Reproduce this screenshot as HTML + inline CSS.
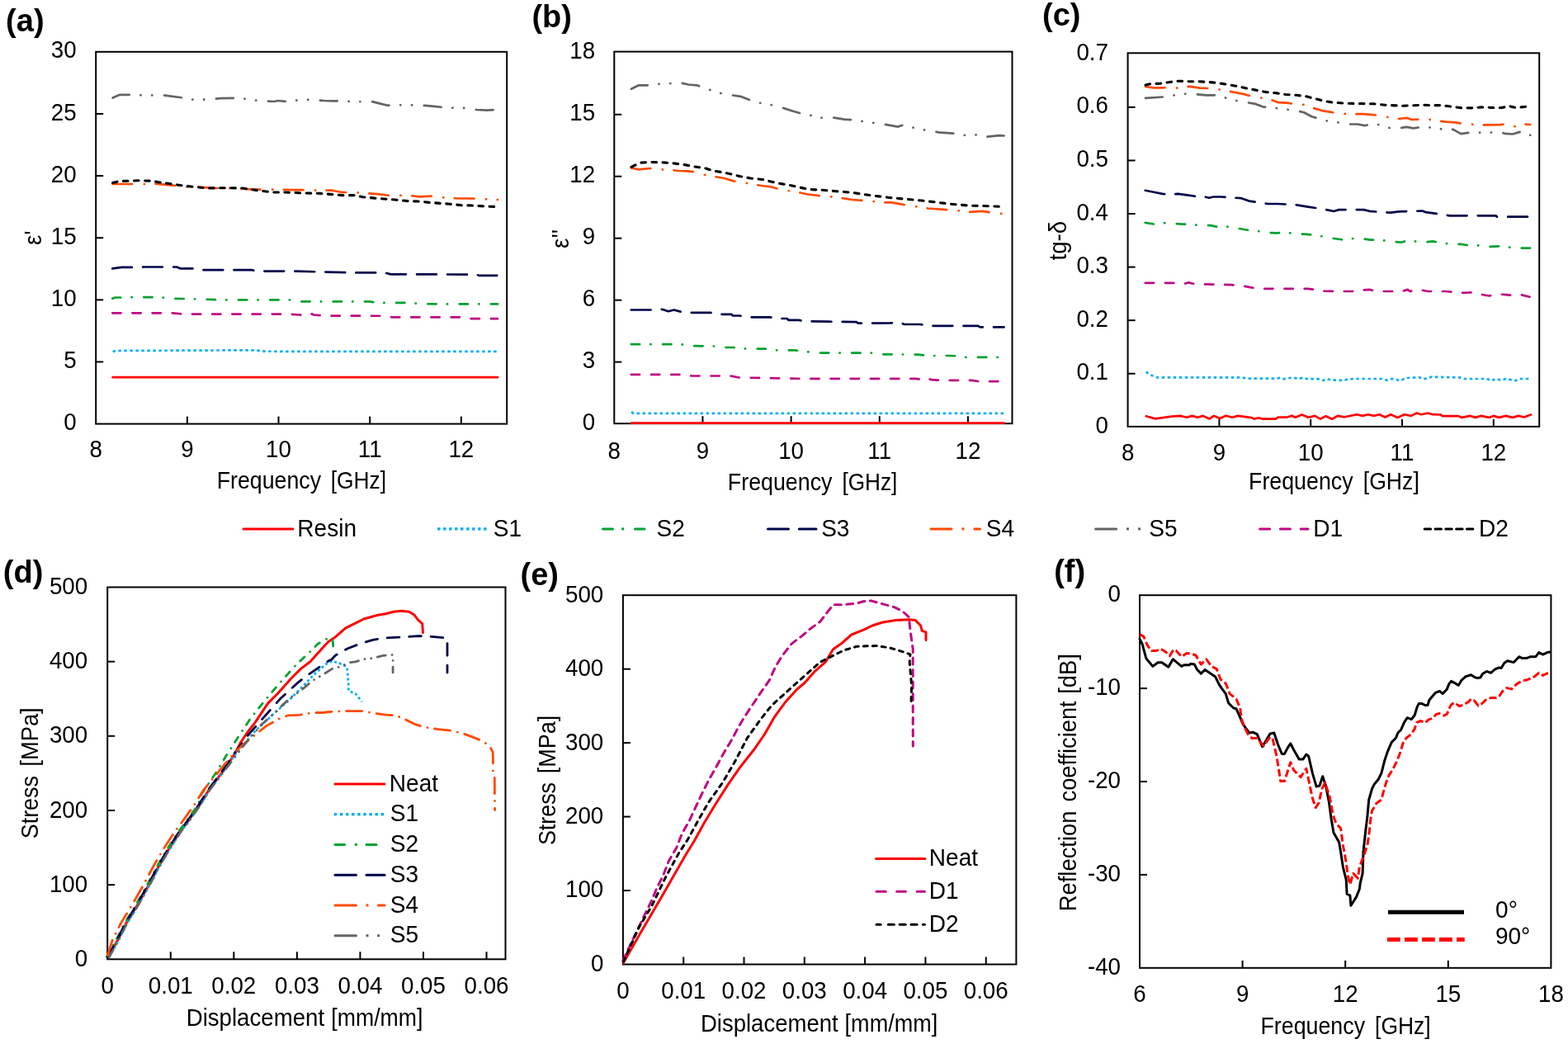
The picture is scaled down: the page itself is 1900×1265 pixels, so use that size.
<!DOCTYPE html>
<html><head><meta charset="utf-8"><title>Figure</title>
<style>html,body{margin:0;padding:0;background:#fff;}svg{display:block;}</style>
</head><body>
<svg width="1900" height="1265" viewBox="0 0 1900 1265" font-family="'Liberation Sans', Arial, sans-serif">
<rect width="1900" height="1265" fill="#fff"/>
<rect x="116.2" y="62.8" width="498.00000000000006" height="450.8" fill="none" stroke="#000" stroke-width="2"/>
<line x1="226.87" y1="513.60" x2="226.87" y2="504.60" stroke="#000" stroke-width="2"/>
<line x1="337.53" y1="513.60" x2="337.53" y2="504.60" stroke="#000" stroke-width="2"/>
<line x1="448.20" y1="513.60" x2="448.20" y2="504.60" stroke="#000" stroke-width="2"/>
<line x1="558.87" y1="513.60" x2="558.87" y2="504.60" stroke="#000" stroke-width="2"/>
<line x1="116.20" y1="438.47" x2="125.20" y2="438.47" stroke="#000" stroke-width="2"/>
<line x1="116.20" y1="363.33" x2="125.20" y2="363.33" stroke="#000" stroke-width="2"/>
<line x1="116.20" y1="288.20" x2="125.20" y2="288.20" stroke="#000" stroke-width="2"/>
<line x1="116.20" y1="213.07" x2="125.20" y2="213.07" stroke="#000" stroke-width="2"/>
<line x1="116.20" y1="137.93" x2="125.20" y2="137.93" stroke="#000" stroke-width="2"/>
<text transform="matrix(0.94,0,0,1,77.15,521.20)" font-size="29.5">0</text>
<text transform="matrix(0.94,0,0,1,77.15,446.07)" font-size="29.5">5</text>
<text transform="matrix(0.94,0,0,1,61.73,370.93)" font-size="29.5">10</text>
<text transform="matrix(0.94,0,0,1,61.73,295.80)" font-size="29.5">15</text>
<text transform="matrix(0.94,0,0,1,61.73,220.67)" font-size="29.5">20</text>
<text transform="matrix(0.94,0,0,1,61.73,145.53)" font-size="29.5">25</text>
<text transform="matrix(0.94,0,0,1,61.73,70.40)" font-size="29.5">30</text>
<text transform="matrix(0.94,0,0,1,108.49,554.40)" font-size="29.5">8</text>
<text transform="matrix(0.94,0,0,1,219.16,554.40)" font-size="29.5">9</text>
<text transform="matrix(0.94,0,0,1,322.11,554.40)" font-size="29.5">10</text>
<text transform="matrix(0.94,0,0,1,433.81,554.40)" font-size="29.5">11</text>
<text transform="matrix(0.94,0,0,1,543.44,554.40)" font-size="29.5">12</text>
<text transform="matrix(0.9066,0,0,1,262.76,592.40)" font-size="29.5" font-weight="normal">Frequency</text>
<text transform="matrix(0.8941,0,0,1,400.75,592.40)" font-size="29.5" font-weight="normal">[GHz]</text>
<text transform="translate(49.90,288.50) rotate(-90) matrix(0.94,0,0,1,-8.60,0)" font-size="29.5" font-weight="normal">ε'</text>
<text transform="matrix(1.0,0,0,1,7.10,37.60)" font-size="38" font-weight="bold">(a)</text>
<rect x="744.3" y="62.6" width="482.20000000000005" height="450.6" fill="none" stroke="#000" stroke-width="2"/>
<line x1="851.46" y1="513.20" x2="851.46" y2="504.20" stroke="#000" stroke-width="2"/>
<line x1="958.61" y1="513.20" x2="958.61" y2="504.20" stroke="#000" stroke-width="2"/>
<line x1="1065.77" y1="513.20" x2="1065.77" y2="504.20" stroke="#000" stroke-width="2"/>
<line x1="1172.92" y1="513.20" x2="1172.92" y2="504.20" stroke="#000" stroke-width="2"/>
<line x1="744.30" y1="438.63" x2="753.30" y2="438.63" stroke="#000" stroke-width="2"/>
<line x1="744.30" y1="363.67" x2="753.30" y2="363.67" stroke="#000" stroke-width="2"/>
<line x1="744.30" y1="288.70" x2="753.30" y2="288.70" stroke="#000" stroke-width="2"/>
<line x1="744.30" y1="213.73" x2="753.30" y2="213.73" stroke="#000" stroke-width="2"/>
<line x1="744.30" y1="138.77" x2="753.30" y2="138.77" stroke="#000" stroke-width="2"/>
<text transform="matrix(0.94,0,0,1,705.65,521.20)" font-size="29.5">0</text>
<text transform="matrix(0.94,0,0,1,705.65,446.23)" font-size="29.5">3</text>
<text transform="matrix(0.94,0,0,1,705.65,371.27)" font-size="29.5">6</text>
<text transform="matrix(0.94,0,0,1,705.65,296.30)" font-size="29.5">9</text>
<text transform="matrix(0.94,0,0,1,690.23,221.33)" font-size="29.5">12</text>
<text transform="matrix(0.94,0,0,1,690.23,146.37)" font-size="29.5">15</text>
<text transform="matrix(0.94,0,0,1,690.23,71.40)" font-size="29.5">18</text>
<text transform="matrix(0.94,0,0,1,736.59,555.60)" font-size="29.5">8</text>
<text transform="matrix(0.94,0,0,1,843.74,555.60)" font-size="29.5">9</text>
<text transform="matrix(0.94,0,0,1,943.19,555.60)" font-size="29.5">10</text>
<text transform="matrix(0.94,0,0,1,1051.37,555.60)" font-size="29.5">11</text>
<text transform="matrix(0.94,0,0,1,1157.50,555.60)" font-size="29.5">12</text>
<text transform="matrix(0.9088,0,0,1,881.86,594.20)" font-size="29.5" font-weight="normal">Frequency</text>
<text transform="matrix(0.8871,0,0,1,1020.47,594.20)" font-size="29.5" font-weight="normal">[GHz]</text>
<text transform="translate(688.50,289.70) rotate(-90) matrix(0.94,0,0,1,-11.23,0)" font-size="29.5" font-weight="normal">ε''</text>
<text transform="matrix(1.0,0,0,1,644.40,32.50)" font-size="38" font-weight="bold">(b)</text>
<rect x="1366.6" y="64.3" width="498.60000000000014" height="452.59999999999997" fill="none" stroke="#000" stroke-width="2"/>
<line x1="1477.40" y1="516.90" x2="1477.40" y2="507.90" stroke="#000" stroke-width="2"/>
<line x1="1588.20" y1="516.90" x2="1588.20" y2="507.90" stroke="#000" stroke-width="2"/>
<line x1="1699.00" y1="516.90" x2="1699.00" y2="507.90" stroke="#000" stroke-width="2"/>
<line x1="1809.80" y1="516.90" x2="1809.80" y2="507.90" stroke="#000" stroke-width="2"/>
<line x1="1366.60" y1="452.73" x2="1375.60" y2="452.73" stroke="#000" stroke-width="2"/>
<line x1="1366.60" y1="388.16" x2="1375.60" y2="388.16" stroke="#000" stroke-width="2"/>
<line x1="1366.60" y1="323.59" x2="1375.60" y2="323.59" stroke="#000" stroke-width="2"/>
<line x1="1366.60" y1="259.01" x2="1375.60" y2="259.01" stroke="#000" stroke-width="2"/>
<line x1="1366.60" y1="194.44" x2="1375.60" y2="194.44" stroke="#000" stroke-width="2"/>
<line x1="1366.60" y1="129.87" x2="1375.60" y2="129.87" stroke="#000" stroke-width="2"/>
<text transform="matrix(0.94,0,0,1,1327.57,524.90)" font-size="29.5">0</text>
<text transform="matrix(0.94,0,0,1,1304.44,460.33)" font-size="29.5">0.1</text>
<text transform="matrix(0.94,0,0,1,1304.44,395.76)" font-size="29.5">0.2</text>
<text transform="matrix(0.94,0,0,1,1304.44,331.19)" font-size="29.5">0.3</text>
<text transform="matrix(0.94,0,0,1,1304.44,266.61)" font-size="29.5">0.4</text>
<text transform="matrix(0.94,0,0,1,1304.44,202.04)" font-size="29.5">0.5</text>
<text transform="matrix(0.94,0,0,1,1304.44,137.47)" font-size="29.5">0.6</text>
<text transform="matrix(0.94,0,0,1,1304.44,72.90)" font-size="29.5">0.7</text>
<text transform="matrix(0.94,0,0,1,1358.89,557.60)" font-size="29.5">8</text>
<text transform="matrix(0.94,0,0,1,1469.69,557.60)" font-size="29.5">9</text>
<text transform="matrix(0.94,0,0,1,1572.78,557.60)" font-size="29.5">10</text>
<text transform="matrix(0.94,0,0,1,1684.61,557.60)" font-size="29.5">11</text>
<text transform="matrix(0.94,0,0,1,1794.38,557.60)" font-size="29.5">12</text>
<text transform="matrix(0.9081,0,0,1,1513.06,592.80)" font-size="29.5" font-weight="normal">Frequency</text>
<text transform="matrix(0.9026,0,0,1,1651.74,592.80)" font-size="29.5" font-weight="normal">[GHz]</text>
<text transform="translate(1291.50,292.00) rotate(-90) matrix(0.94,0,0,1,-23.50,0)" font-size="29.5" font-weight="normal">tg-δ</text>
<text transform="matrix(1.0,0,0,1,1263.00,31.20)" font-size="38" font-weight="bold">(c)</text>
<rect x="130.2" y="711.5" width="482.3" height="450.79999999999995" fill="none" stroke="#000" stroke-width="2"/>
<line x1="206.76" y1="1162.30" x2="206.76" y2="1153.30" stroke="#000" stroke-width="2"/>
<line x1="283.31" y1="1162.30" x2="283.31" y2="1153.30" stroke="#000" stroke-width="2"/>
<line x1="359.87" y1="1162.30" x2="359.87" y2="1153.30" stroke="#000" stroke-width="2"/>
<line x1="436.42" y1="1162.30" x2="436.42" y2="1153.30" stroke="#000" stroke-width="2"/>
<line x1="512.98" y1="1162.30" x2="512.98" y2="1153.30" stroke="#000" stroke-width="2"/>
<line x1="589.53" y1="1162.30" x2="589.53" y2="1153.30" stroke="#000" stroke-width="2"/>
<line x1="130.20" y1="1072.14" x2="139.20" y2="1072.14" stroke="#000" stroke-width="2"/>
<line x1="130.20" y1="981.98" x2="139.20" y2="981.98" stroke="#000" stroke-width="2"/>
<line x1="130.20" y1="891.82" x2="139.20" y2="891.82" stroke="#000" stroke-width="2"/>
<line x1="130.20" y1="801.66" x2="139.20" y2="801.66" stroke="#000" stroke-width="2"/>
<text transform="matrix(0.94,0,0,1,90.78,1170.90)" font-size="29.5">0</text>
<text transform="matrix(0.94,0,0,1,59.94,1080.74)" font-size="29.5">100</text>
<text transform="matrix(0.94,0,0,1,59.94,990.58)" font-size="29.5">200</text>
<text transform="matrix(0.94,0,0,1,59.94,900.42)" font-size="29.5">300</text>
<text transform="matrix(0.94,0,0,1,59.94,810.26)" font-size="29.5">400</text>
<text transform="matrix(0.94,0,0,1,59.94,720.10)" font-size="29.5">500</text>
<text transform="matrix(0.94,0,0,1,122.49,1203.60)" font-size="29.5">0</text>
<text transform="matrix(0.94,0,0,1,179.77,1203.60)" font-size="29.5">0.01</text>
<text transform="matrix(0.94,0,0,1,256.33,1203.60)" font-size="29.5">0.02</text>
<text transform="matrix(0.94,0,0,1,332.88,1203.60)" font-size="29.5">0.03</text>
<text transform="matrix(0.94,0,0,1,409.44,1203.60)" font-size="29.5">0.04</text>
<text transform="matrix(0.94,0,0,1,485.99,1203.60)" font-size="29.5">0.05</text>
<text transform="matrix(0.94,0,0,1,562.55,1203.60)" font-size="29.5">0.06</text>
<text transform="matrix(0.9369,0,0,1,225.69,1243.20)" font-size="29.5" font-weight="normal">Displacement</text>
<text transform="matrix(0.9037,0,0,1,401.33,1243.20)" font-size="29.5" font-weight="normal">[mm/mm]</text>
<text transform="translate(45.60,1015.00) rotate(-90) matrix(0.9093,0,0,1,-1.21,0)" font-size="29.5" font-weight="normal">Stress</text>
<text transform="translate(45.60,926.80) rotate(-90) matrix(0.9277,0,0,1,-1.92,0)" font-size="29.5" font-weight="normal">[MPa]</text>
<text transform="matrix(1.0,0,0,1,3.80,706.30)" font-size="38" font-weight="bold">(d)</text>
<rect x="754.9" y="721.2" width="476.5000000000001" height="447.29999999999995" fill="none" stroke="#000" stroke-width="2"/>
<line x1="828.21" y1="1168.50" x2="828.21" y2="1159.50" stroke="#000" stroke-width="2"/>
<line x1="901.52" y1="1168.50" x2="901.52" y2="1159.50" stroke="#000" stroke-width="2"/>
<line x1="974.82" y1="1168.50" x2="974.82" y2="1159.50" stroke="#000" stroke-width="2"/>
<line x1="1048.13" y1="1168.50" x2="1048.13" y2="1159.50" stroke="#000" stroke-width="2"/>
<line x1="1121.44" y1="1168.50" x2="1121.44" y2="1159.50" stroke="#000" stroke-width="2"/>
<line x1="1194.75" y1="1168.50" x2="1194.75" y2="1159.50" stroke="#000" stroke-width="2"/>
<line x1="754.90" y1="1079.04" x2="763.90" y2="1079.04" stroke="#000" stroke-width="2"/>
<line x1="754.90" y1="989.58" x2="763.90" y2="989.58" stroke="#000" stroke-width="2"/>
<line x1="754.90" y1="900.12" x2="763.90" y2="900.12" stroke="#000" stroke-width="2"/>
<line x1="754.90" y1="810.66" x2="763.90" y2="810.66" stroke="#000" stroke-width="2"/>
<text transform="matrix(0.94,0,0,1,715.88,1176.90)" font-size="29.5">0</text>
<text transform="matrix(0.94,0,0,1,685.04,1087.44)" font-size="29.5">100</text>
<text transform="matrix(0.94,0,0,1,685.04,997.98)" font-size="29.5">200</text>
<text transform="matrix(0.94,0,0,1,685.04,908.52)" font-size="29.5">300</text>
<text transform="matrix(0.94,0,0,1,685.04,819.06)" font-size="29.5">400</text>
<text transform="matrix(0.94,0,0,1,685.04,729.60)" font-size="29.5">500</text>
<text transform="matrix(0.94,0,0,1,747.19,1210.00)" font-size="29.5">0</text>
<text transform="matrix(0.94,0,0,1,801.22,1210.00)" font-size="29.5">0.01</text>
<text transform="matrix(0.94,0,0,1,874.53,1210.00)" font-size="29.5">0.02</text>
<text transform="matrix(0.94,0,0,1,947.84,1210.00)" font-size="29.5">0.03</text>
<text transform="matrix(0.94,0,0,1,1021.14,1210.00)" font-size="29.5">0.04</text>
<text transform="matrix(0.94,0,0,1,1094.45,1210.00)" font-size="29.5">0.05</text>
<text transform="matrix(0.94,0,0,1,1167.76,1210.00)" font-size="29.5">0.06</text>
<text transform="matrix(0.9340,0,0,1,848.90,1250.10)" font-size="29.5" font-weight="normal">Displacement</text>
<text transform="matrix(0.9180,0,0,1,1023.60,1250.10)" font-size="29.5" font-weight="normal">[mm/mm]</text>
<text transform="translate(672.80,1022.90) rotate(-90) matrix(0.9105,0,0,1,-1.21,0)" font-size="29.5" font-weight="normal">Stress</text>
<text transform="translate(672.80,935.40) rotate(-90) matrix(0.9181,0,0,1,-1.90,0)" font-size="29.5" font-weight="normal">[MPa]</text>
<text transform="matrix(1.0,0,0,1,630.50,709.40)" font-size="38" font-weight="bold">(e)</text>
<rect x="1381.0" y="721.2" width="498.4000000000001" height="451.5999999999999" fill="none" stroke="#000" stroke-width="2"/>
<line x1="1505.60" y1="1172.80" x2="1505.60" y2="1163.80" stroke="#000" stroke-width="2"/>
<line x1="1630.20" y1="1172.80" x2="1630.20" y2="1163.80" stroke="#000" stroke-width="2"/>
<line x1="1754.80" y1="1172.80" x2="1754.80" y2="1163.80" stroke="#000" stroke-width="2"/>
<line x1="1381.00" y1="834.10" x2="1390.00" y2="834.10" stroke="#000" stroke-width="2"/>
<line x1="1381.00" y1="947.00" x2="1390.00" y2="947.00" stroke="#000" stroke-width="2"/>
<line x1="1381.00" y1="1059.90" x2="1390.00" y2="1059.90" stroke="#000" stroke-width="2"/>
<text transform="matrix(0.94,0,0,1,1342.62,729.10)" font-size="29.5">0</text>
<text transform="matrix(0.94,0,0,1,1317.96,842.00)" font-size="29.5">-10</text>
<text transform="matrix(0.94,0,0,1,1317.96,954.90)" font-size="29.5">-20</text>
<text transform="matrix(0.94,0,0,1,1317.96,1067.80)" font-size="29.5">-30</text>
<text transform="matrix(0.94,0,0,1,1317.96,1180.70)" font-size="29.5">-40</text>
<text transform="matrix(0.94,0,0,1,1373.29,1213.50)" font-size="29.5">6</text>
<text transform="matrix(0.94,0,0,1,1497.89,1213.50)" font-size="29.5">9</text>
<text transform="matrix(0.94,0,0,1,1614.78,1213.50)" font-size="29.5">12</text>
<text transform="matrix(0.94,0,0,1,1739.38,1213.50)" font-size="29.5">15</text>
<text transform="matrix(0.94,0,0,1,1863.98,1213.50)" font-size="29.5">18</text>
<text transform="matrix(0.9088,0,0,1,1527.46,1252.90)" font-size="29.5" font-weight="normal">Frequency</text>
<text transform="matrix(0.8955,0,0,1,1666.05,1252.90)" font-size="29.5" font-weight="normal">[GHz]</text>
<text transform="translate(1303.80,1102.00) rotate(-90) matrix(0.9271,0,0,1,-2.19,0)" font-size="29.5" font-weight="normal">Reflection</text>
<text transform="translate(1303.80,970.20) rotate(-90) matrix(0.9228,0,0,1,-1.23,0)" font-size="29.5" font-weight="normal">coefficient</text>
<text transform="translate(1303.80,838.90) rotate(-90) matrix(0.9268,0,0,1,-1.91,0)" font-size="29.5" font-weight="normal">[dB]</text>
<text transform="matrix(1.0,0,0,1,1277.20,704.60)" font-size="38" font-weight="bold">(f)</text>
<polyline points="136.6,457.2 603.0,457.2" fill="none" stroke="#FF0000" stroke-width="2.7" stroke-linecap="round" stroke-linejoin="round"/>
<polyline points="136.6,426.3 140.0,425.0 311.0,424.3 316.3,425.7 360.0,425.9 603.0,425.9" fill="none" stroke="#00AEF0" stroke-width="2.7" stroke-linecap="butt" stroke-linejoin="round" stroke-dasharray="3.5 3.5"/>
<polyline points="136.2,361.8 139.5,360.5 147.6,360.5 160.4,360.1 185.9,360.1 195.3,360.2 206.0,361.8 231.6,362.1 244.4,362.5 267.9,363.4 331.7,363.4 351.9,363.4 360.0,365.4 447.6,365.4 458.5,367.0 496.8,366.8 507.8,368.1 533.1,368.4 603.0,368.4" fill="none" stroke="#00A22E" stroke-width="2.7" stroke-linecap="round" stroke-linejoin="round" stroke-dasharray="10.30 13.20 0.30 14.50"/>
<polyline points="136.2,325.3 147.6,323.9 161.7,323.9 175.1,323.5 200.7,323.5 214.1,323.5 218.2,325.3 237.0,325.3 243.7,327.2 270.6,327.2 304.8,327.2 314.9,328.6 341.1,328.6 360.0,328.7 427.0,330.4 466.0,330.4 473.6,332.4 529.7,332.4 577.6,332.8 580.3,333.8 602.2,333.8" fill="none" stroke="#00064A" stroke-width="2.7" stroke-linecap="round" stroke-linejoin="round" stroke-dasharray="23.80 13.20"/>
<polyline points="136.6,223.0 163.0,223.0 175.8,223.0 188.5,222.6 212.7,224.9 224.1,226.3 238.3,226.6 261.1,228.0 288.1,228.0 306.6,229.7 335.0,229.7 355.0,230.2 365.7,230.2 377.0,230.6 402.7,230.7 414.0,233.0 426.9,233.0 446.8,234.4 457.4,235.2 471.0,236.8 495.1,236.8 508.0,238.3 522.2,237.7 545.0,240.1 558.4,240.5 572.0,240.5 596.8,241.8 603.0,242.0" fill="none" stroke="#FF4A00" stroke-width="2.7" stroke-linecap="round" stroke-linejoin="round" stroke-dasharray="23.60 14.50 0.30 13.50"/>
<polyline points="136.6,118.5 144.5,114.9 160.1,114.9 172.9,115.4 186.4,115.4 200.0,115.6 221.3,118.5 233.4,120.6 246.9,120.6 259.7,119.9 266.8,119.2 281.8,118.8 291.7,118.8 303.8,121.0 315.2,122.0 332.3,123.0 336.5,122.0 347.9,123.0 357.8,121.8 370.0,120.6 392.7,122.0 403.4,122.3 417.6,122.3 429.7,123.5 449.6,122.8 461.0,125.6 469.5,127.7 479.5,127.3 505.1,127.3 518.0,128.2 530.7,129.4 543.5,130.6 564.9,131.0 577.7,133.0 590.4,133.7 602.5,132.7" fill="none" stroke="#646464" stroke-width="2.7" stroke-linecap="round" stroke-linejoin="round" stroke-dasharray="20.80 13.70 0.30 13.50 0.30 14.70"/>
<polyline points="136.2,379.3 209.4,379.3 222.2,380.6 351.2,380.6 362.6,381.5 373.7,382.1 377.8,380.3 380.0,381.5 392.8,382.5 466.7,382.8 475.0,384.4 557.0,384.4 566.6,386.2 603.0,386.2" fill="none" stroke="#C00682" stroke-width="2.7" stroke-linecap="round" stroke-linejoin="round" stroke-dasharray="10.30 13.90"/>
<polyline points="136.6,221.6 144.5,219.5 168.6,218.8 184.3,219.2 192.8,220.9 208.5,223.0 222.7,225.2 234.1,226.3 251.1,228.0 272.5,227.7 293.8,228.0 315.2,231.2 332.3,233.0 343.6,233.0 361.4,233.7 388.4,234.4 414.0,236.6 428.3,236.6 439.7,238.7 453.9,240.1 480.9,242.2 495.1,243.7 508.0,244.0 520.7,245.4 545.0,247.2 559.1,248.7 573.4,249.1 587.6,250.0 603.2,250.5" fill="none" stroke="#000000" stroke-width="3.1" stroke-linecap="round" stroke-linejoin="round" stroke-dasharray="5.60 7.50"/>
<polyline points="765.0,512.6 1216.6,512.6" fill="none" stroke="#FF0000" stroke-width="2.7" stroke-linecap="round" stroke-linejoin="round"/>
<polyline points="765.0,499.2 768.0,500.8 1216.6,500.8" fill="none" stroke="#00AEF0" stroke-width="2.7" stroke-linecap="butt" stroke-linejoin="round" stroke-dasharray="3.5 3.5"/>
<polyline points="764.8,417.2 815.9,417.2 828.7,417.5 839.4,419.2 865.0,419.5 875.7,421.0 889.2,421.0 900.6,422.6 926.8,422.6 936.9,424.3 963.1,424.3 973.8,425.9 996.1,427.7 1044.5,427.7 1055.3,427.6 1063.3,429.3 1112.4,429.6 1123.8,431.0 1148.7,431.0 1158.8,431.3 1168.2,432.9 1216.6,432.9" fill="none" stroke="#00A22E" stroke-width="2.7" stroke-linecap="round" stroke-linejoin="round" stroke-dasharray="10.30 13.20 0.30 14.50"/>
<polyline points="764.8,375.5 791.0,375.5 803.1,374.9 809.9,377.3 816.6,375.5 824.6,377.6 834.1,378.9 861.0,378.9 871.0,380.9 886.5,380.9 887.8,382.5 895.9,382.5 906.6,384.3 932.8,384.3 943.0,386.0 953.7,386.0 955.7,387.9 967.8,387.9 977.9,389.4 1004.2,389.7 1037.8,390.1 1039.8,391.7 1078.8,391.4 1091.6,391.0 1095.6,393.0 1115.1,393.0 1125.8,394.8 1185.0,394.8 1187.7,396.4 1216.6,396.4" fill="none" stroke="#00064A" stroke-width="2.7" stroke-linecap="round" stroke-linejoin="round" stroke-dasharray="23.80 13.20"/>
<polyline points="765.0,203.5 774.0,205.4 787.6,204.0 799.6,205.4 810.1,205.4 822.1,207.0 834.1,207.4 845.4,208.9 855.2,212.2 877.7,216.0 889.0,219.4 900.3,221.2 922.8,225.0 934.8,226.5 945.3,229.5 967.9,233.2 979.1,235.5 998.0,237.8 1010.0,238.5 1032.6,242.0 1056.6,243.8 1068.6,245.3 1080.7,245.3 1100.2,249.0 1112.2,250.5 1124.2,252.5 1148.3,254.3 1160.3,255.0 1169.3,257.3 1190.3,255.8 1203.9,258.0 1215.1,259.1" fill="none" stroke="#FF4A00" stroke-width="2.7" stroke-linecap="round" stroke-linejoin="round" stroke-dasharray="23.60 14.50 0.30 13.50"/>
<polyline points="765.0,107.8 774.0,103.3 786.1,103.3 797.3,101.8 808.6,101.8 820.6,99.5 834.1,102.5 844.7,103.3 854.4,107.0 864.9,110.5 876.2,113.8 897.2,116.8 907.0,120.6 917.5,124.3 929.5,125.8 949.8,131.1 961.1,134.8 971.6,137.8 979.9,139.8 990.5,140.1 995.0,142.8 1001.0,141.6 1013.8,143.1 1022.8,144.6 1034.1,145.4 1055.1,148.4 1066.4,149.9 1078.4,151.8 1088.2,153.6 1094.2,151.4 1107.0,154.8 1116.7,157.4 1126.5,157.4 1137.0,160.4 1160.3,161.9 1168.6,163.8 1179.1,163.8 1190.3,162.3 1196.3,165.6 1211.4,164.1 1216.6,164.5" fill="none" stroke="#646464" stroke-width="2.7" stroke-linecap="round" stroke-linejoin="round" stroke-dasharray="20.80 13.70 0.30 13.50 0.30 14.70"/>
<polyline points="764.8,453.8 826.0,453.8 838.1,455.5 884.5,455.5 895.9,457.5 977.9,458.9 1109.7,458.9 1120.5,460.0 1124.0,458.2 1128.5,460.2 1141.3,460.9 1177.6,460.9 1186.3,462.2 1216.6,462.2" fill="none" stroke="#C00682" stroke-width="2.7" stroke-linecap="round" stroke-linejoin="round" stroke-dasharray="10.30 13.90"/>
<polyline points="765.0,202.4 775.6,197.2 789.1,196.4 804.1,196.9 816.1,197.9 828.1,199.4 840.2,201.7 855.2,204.0 864.2,207.0 876.2,208.9 888.2,211.5 897.2,213.7 909.3,216.0 924.3,217.5 936.3,220.5 945.3,222.4 957.3,224.5 969.4,227.2 981.4,229.5 995.0,230.2 1013.0,231.7 1031.1,233.2 1052.1,236.3 1076.2,239.3 1100.2,241.5 1124.2,243.8 1148.3,246.8 1172.3,249.0 1190.3,249.5 1216.6,250.5" fill="none" stroke="#000000" stroke-width="3.1" stroke-linecap="round" stroke-linejoin="round" stroke-dasharray="5.60 7.50"/>
<polyline points="1388.7,504.3 1399.9,507.4 1419.6,504.7 1430.2,503.9 1438.1,505.7 1444.6,503.9 1451.2,505.7 1457.8,503.9 1465.7,507.4 1471.0,503.9 1478.2,507.0 1485.4,503.7 1493.3,505.7 1499.9,503.9 1517.0,506.1 1519.6,507.6 1524.9,506.3 1530.2,507.6 1545.9,507.6 1548.6,505.7 1560.4,505.3 1565.7,503.7 1569.6,505.7 1577.5,502.4 1585.4,505.7 1593.3,503.9 1599.9,507.6 1606.5,504.3 1614.1,507.7 1620.9,503.9 1629.2,505.3 1644.2,502.2 1651.0,503.9 1657.9,502.2 1664.7,503.9 1671.6,502.2 1678.4,505.5 1685.3,502.2 1693.5,505.9 1701.7,502.2 1709.9,503.9 1716.7,500.5 1722.2,502.2 1730.4,500.5 1735.9,502.2 1745.5,502.5 1748.2,504.2 1767.4,504.2 1771.5,505.9 1781.0,503.9 1787.9,505.9 1794.7,503.9 1804.3,505.9 1809.8,503.9 1816.6,505.9 1824.8,503.9 1833.0,505.9 1839.9,503.9 1846.7,505.5 1854.9,502.5" fill="none" stroke="#FF0000" stroke-width="2.7" stroke-linecap="round" stroke-linejoin="round"/>
<polyline points="1388.7,450.4 1392.7,454.0 1397.9,455.7 1402.5,457.4 1505.2,457.4 1510.4,458.7 1544.6,458.7 1551.2,457.9 1555.2,459.2 1567.0,457.4 1573.6,459.2 1578.8,457.4 1584.1,459.2 1597.3,459.2 1603.2,460.9 1607.8,459.0 1613.1,460.5 1626.4,460.8 1639.4,459.0 1674.3,459.0 1680.5,460.8 1686.6,459.0 1697.6,461.2 1703.0,458.1 1719.5,457.1 1724.9,459.4 1734.5,456.7 1768.7,457.4 1774.2,459.0 1801.6,459.0 1807.0,461.2 1812.5,459.0 1819.4,460.8 1824.8,459.0 1835.8,461.2 1842.6,459.0 1854.0,459.0" fill="none" stroke="#00AEF0" stroke-width="2.7" stroke-linecap="butt" stroke-linejoin="round" stroke-dasharray="3.5 3.5"/>
<polyline points="1387.8,269.8 1398.6,271.6 1410.0,270.1 1432.9,271.6 1443.0,271.8 1454.4,273.2 1466.5,273.2 1477.9,275.2 1490.7,274.5 1500.7,276.8 1512.2,278.8 1523.6,279.9 1533.7,281.9 1547.1,282.3 1560.5,281.9 1570.0,283.3 1583.4,283.9 1595.5,285.3 1604.9,286.9 1616.3,289.0 1629.2,290.7 1634.6,289.1 1649.7,289.1 1660.6,290.7 1672.9,290.7 1684.6,292.4 1697.6,293.7 1705.8,291.4 1714.0,292.4 1726.3,293.5 1735.9,292.4 1746.8,294.2 1758.5,295.9 1770.1,295.9 1781.7,297.6 1794.7,297.3 1804.3,298.9 1815.9,298.3 1824.8,298.9 1834.4,300.6 1854.1,300.6" fill="none" stroke="#00A22E" stroke-width="2.7" stroke-linecap="round" stroke-linejoin="round" stroke-dasharray="10.30 13.20 0.30 14.50"/>
<polyline points="1387.8,230.8 1397.9,232.8 1408.7,234.9 1418.1,235.8 1427.5,234.9 1440.3,236.6 1451.0,238.2 1456.4,237.6 1465.1,239.8 1470.5,238.5 1479.9,238.5 1504.1,240.2 1513.5,243.6 1536.4,247.0 1548.5,247.0 1571.3,248.3 1583.4,250.3 1604.9,253.7 1616.3,256.0 1622.3,254.1 1652.4,254.1 1659.3,255.8 1675.7,257.2 1685.3,257.6 1694.8,256.3 1723.6,255.6 1727.7,257.2 1744.1,259.3 1756.4,261.3 1812.5,261.3 1813.9,262.7 1854.1,262.7" fill="none" stroke="#00064A" stroke-width="2.7" stroke-linecap="round" stroke-linejoin="round" stroke-dasharray="23.80 13.20"/>
<polyline points="1388.1,105.0 1397.3,106.3 1409.1,106.3 1419.6,106.1 1432.8,107.0 1440.7,104.7 1453.8,106.7 1463.7,107.0 1473.6,107.9 1485.4,109.6 1494.6,111.6 1506.5,113.9 1517.0,116.8 1538.0,120.1 1548.6,124.1 1559.1,124.7 1581.5,127.1 1592.0,131.1 1602.5,134.2 1610.0,135.4 1622.3,137.5 1637.4,138.2 1651.0,138.2 1664.7,139.1 1679.8,141.6 1694.8,144.0 1704.4,142.9 1711.3,145.0 1722.2,144.3 1733.2,145.0 1752.3,147.7 1763.3,148.4 1774.2,150.1 1794.7,151.4 1804.3,151.4 1818.0,151.2 1826.2,149.8 1835.8,153.2 1845.4,150.5 1854.1,151.0" fill="none" stroke="#FF4A00" stroke-width="2.7" stroke-linecap="round" stroke-linejoin="round" stroke-dasharray="23.60 14.50 0.30 13.50"/>
<polyline points="1388.1,118.8 1409.1,117.5 1419.0,116.2 1430.2,113.9 1440.7,113.6 1461.7,115.3 1475.6,115.3 1486.1,118.8 1497.3,121.8 1520.9,125.8 1530.2,129.3 1540.0,130.4 1549.9,131.3 1571.0,134.2 1580.2,136.3 1589.4,141.2 1599.9,144.2 1610.0,147.0 1622.3,148.4 1634.6,150.5 1644.9,150.5 1653.8,152.2 1663.4,149.8 1674.3,151.8 1684.6,155.3 1694.8,155.3 1704.4,153.9 1712.6,155.3 1723.6,153.9 1734.5,154.6 1743.4,155.3 1753.7,159.1 1760.5,156.6 1770.1,162.1 1781.0,160.7 1792.0,160.7 1805.7,160.7 1813.9,159.1 1823.5,161.8 1833.0,162.5 1844.0,159.1 1854.3,163.7" fill="none" stroke="#646464" stroke-width="2.7" stroke-linecap="round" stroke-linejoin="round" stroke-dasharray="20.80 13.70 0.30 13.50 0.30 14.70"/>
<polyline points="1387.8,342.8 1424.8,342.8 1435.5,343.7 1440.3,342.4 1445.6,343.7 1457.0,344.4 1492.0,345.1 1504.1,346.0 1513.5,347.8 1524.3,349.8 1584.7,349.8 1595.5,351.1 1604.9,352.7 1616.3,353.0 1638.7,353.0 1648.3,351.6 1659.3,350.9 1668.8,353.0 1698.9,353.0 1705.8,350.9 1708.5,353.0 1719.5,350.9 1730.4,353.0 1750.9,353.0 1760.5,353.7 1771.5,354.8 1783.8,354.4 1794.7,356.7 1804.3,358.5 1815.3,356.4 1824.8,357.1 1834.4,358.1 1842.6,357.1 1853.6,359.8" fill="none" stroke="#C00682" stroke-width="2.7" stroke-linecap="round" stroke-linejoin="round" stroke-dasharray="10.30 13.90"/>
<polyline points="1388.1,103.0 1393.3,101.7 1406.5,101.1 1417.0,99.5 1427.5,98.2 1440.7,98.7 1452.5,98.7 1464.4,99.5 1474.9,100.4 1485.4,102.1 1498.6,104.3 1510.4,107.0 1522.3,109.2 1534.1,111.6 1547.3,112.9 1557.8,114.5 1571.0,115.3 1582.8,116.8 1593.3,119.5 1603.8,122.1 1614.1,124.1 1630.5,125.2 1642.8,125.4 1664.7,125.8 1678.4,127.2 1699.0,128.2 1711.3,127.9 1723.6,127.2 1735.9,127.6 1746.8,127.6 1757.8,129.0 1770.1,130.6 1782.4,130.9 1796.1,129.9 1807.0,130.4 1819.4,130.6 1828.9,128.6 1837.2,130.6 1850.8,129.0 1854.1,129.0" fill="none" stroke="#000000" stroke-width="3.1" stroke-linecap="round" stroke-linejoin="round" stroke-dasharray="5.60 7.50"/>
<line x1="295.0" y1="640.9" x2="355.0" y2="640.9" stroke="#FF0000" stroke-width="3" stroke-linecap="round"/>
<text transform="matrix(0.95,0,0,1,360.36,649.50)" font-size="29.5" font-weight="normal">Resin</text>
<rect x="530.1" y="639.2" width="3.4" height="3.4" fill="#00AEF0"/>
<rect x="537.1" y="639.2" width="3.4" height="3.4" fill="#00AEF0"/>
<rect x="544.1" y="639.2" width="3.4" height="3.4" fill="#00AEF0"/>
<rect x="551.1" y="639.2" width="3.4" height="3.4" fill="#00AEF0"/>
<rect x="558.1" y="639.2" width="3.4" height="3.4" fill="#00AEF0"/>
<rect x="565.1" y="639.2" width="3.4" height="3.4" fill="#00AEF0"/>
<rect x="572.1" y="639.2" width="3.4" height="3.4" fill="#00AEF0"/>
<rect x="579.1" y="639.2" width="3.4" height="3.4" fill="#00AEF0"/>
<rect x="586.1" y="639.2" width="3.4" height="3.4" fill="#00AEF0"/>
<text transform="matrix(0.95,0,0,1,597.74,649.50)" font-size="29.5" font-weight="normal">S1</text>
<line x1="730.5" y1="640.9" x2="742.5" y2="640.9" stroke="#00A22E" stroke-width="3" stroke-linecap="round"/>
<rect x="753.2" y="639.4" width="3" height="3" fill="#00A22E"/>
<line x1="769.5" y1="640.9" x2="781.0" y2="640.9" stroke="#00A22E" stroke-width="3" stroke-linecap="round"/>
<text transform="matrix(0.95,0,0,1,795.54,649.50)" font-size="29.5" font-weight="normal">S2</text>
<line x1="930.5" y1="640.9" x2="955.5" y2="640.9" stroke="#00064A" stroke-width="3" stroke-linecap="round"/>
<line x1="968.3" y1="640.9" x2="989.0" y2="640.9" stroke="#00064A" stroke-width="3" stroke-linecap="round"/>
<text transform="matrix(0.95,0,0,1,995.14,649.50)" font-size="29.5" font-weight="normal">S3</text>
<line x1="1128.0" y1="640.9" x2="1153.0" y2="640.9" stroke="#FF4A00" stroke-width="3" stroke-linecap="round"/>
<rect x="1165.4" y="639.4" width="3" height="3" fill="#FF4A00"/>
<line x1="1180.8" y1="640.9" x2="1187.5" y2="640.9" stroke="#FF4A00" stroke-width="3" stroke-linecap="round"/>
<text transform="matrix(0.95,0,0,1,1194.74,649.50)" font-size="29.5" font-weight="normal">S4</text>
<line x1="1327.6" y1="640.9" x2="1352.6" y2="640.9" stroke="#646464" stroke-width="3" stroke-linecap="round"/>
<rect x="1365.0" y="639.4" width="3" height="3" fill="#646464"/>
<rect x="1379.0" y="639.4" width="3" height="3" fill="#646464"/>
<text transform="matrix(0.95,0,0,1,1392.24,649.50)" font-size="29.5" font-weight="normal">S5</text>
<line x1="1526.6" y1="640.9" x2="1538.6" y2="640.9" stroke="#C00682" stroke-width="3" stroke-linecap="round"/>
<line x1="1551.4" y1="640.9" x2="1563.4" y2="640.9" stroke="#C00682" stroke-width="3" stroke-linecap="round"/>
<line x1="1576.2" y1="640.9" x2="1585.0" y2="640.9" stroke="#C00682" stroke-width="3" stroke-linecap="round"/>
<text transform="matrix(0.95,0,0,1,1591.36,649.50)" font-size="29.5" font-weight="normal">D1</text>
<line x1="1726.2" y1="640.9" x2="1733.7" y2="640.9" stroke="#000000" stroke-width="3" stroke-linecap="round"/>
<line x1="1739.0" y1="640.9" x2="1746.5" y2="640.9" stroke="#000000" stroke-width="3" stroke-linecap="round"/>
<line x1="1751.8" y1="640.9" x2="1759.3" y2="640.9" stroke="#000000" stroke-width="3" stroke-linecap="round"/>
<line x1="1764.6" y1="640.9" x2="1772.1" y2="640.9" stroke="#000000" stroke-width="3" stroke-linecap="round"/>
<line x1="1777.4" y1="640.9" x2="1784.9" y2="640.9" stroke="#000000" stroke-width="3" stroke-linecap="round"/>
<text transform="matrix(0.95,0,0,1,1792.06,649.50)" font-size="29.5" font-weight="normal">D2</text>
<polyline points="131.3,1159.5 142.6,1139.3 152.6,1119.3 165.8,1097.8 179.1,1074.5 192.4,1049.6 204.0,1029.7 219.0,1006.5 225.4,998.4 242.0,975.1 253.0,957.4 269.6,935.3 284.0,914.2 292.0,899.0 300.0,887.2 309.5,874.9 319.0,860.6 324.7,852.1 336.1,840.7 353.1,821.7 364.5,810.4 375.9,801.8 383.5,793.3 393.0,782.8 398.0,777.5 406.0,772.2 418.6,761.1 428.1,756.4 440.8,750.0 457.9,745.3 467.4,743.7 476.9,741.3 486.4,740.2 495.9,741.3 502.2,745.3 507.0,751.6 511.7,755.6 512.5,766.6" fill="none" stroke="#FF0000" stroke-width="3" stroke-linecap="round" stroke-linejoin="round"/>
<polyline points="132.3,1159.5 143.6,1139.3 153.6,1119.3 166.8,1097.8 180.1,1074.5 193.4,1049.6 205.0,1029.7 220.0,1006.5 226.4,998.4 243.0,975.1 254.0,957.4 270.6,935.3 285.0,914.2 309.5,885.3 333.2,863.5 350.3,848.3 368.3,830.3 379.7,818.0 394.9,804.7 402.5,800.9 413.9,804.7 420.5,808.5 421.4,818.0 422.4,831.2 422.4,836.9 430.9,840.7 438.5,850.2" fill="none" stroke="#00AEF0" stroke-width="2.8" stroke-linecap="butt" stroke-linejoin="round" stroke-dasharray="3 3"/>
<polyline points="129.3,1159.5 140.6,1139.3 150.6,1119.3 163.8,1097.8 177.1,1074.5 190.4,1049.6 202.0,1029.7 217.0,1006.5 223.4,998.4 240.0,975.1 244.3,961.8 260.9,937.5 276.4,912.0 290.8,889.9 303.8,870.1 323.7,845.5 340.8,825.5 358.8,805.6 375.9,789.5 385.4,780.0 396.5,773.8 402.8,774.5 403.6,780.0 403.6,792.0" fill="none" stroke="#00A22E" stroke-width="2.8" stroke-linecap="round" stroke-linejoin="round" stroke-dasharray="7.20 9.30 0.01 8.80"/>
<polyline points="130.3,1159.5 141.6,1139.3 151.6,1119.3 164.8,1097.8 178.1,1074.5 191.4,1049.6 203.0,1029.7 218.0,1006.5 224.4,998.4 241.0,975.1 252.0,957.4 268.6,935.3 283.0,914.2 301.9,889.1 324.7,863.5 339.8,846.4 360.7,827.4 370.2,819.8 385.4,809.4 399.6,799.9 401.5,799.5 406.3,794.2 421.4,785.7 436.6,780.0 451.8,775.3 467.4,773.0 483.2,772.2 507.0,770.6 522.8,771.4 541.7,773.0 542.0,773.0 542.0,815.0" fill="none" stroke="#00064A" stroke-width="2.8" stroke-linecap="round" stroke-linejoin="round" stroke-dasharray="14.70 11.80"/>
<polyline points="130.5,1157.5 136.1,1139.3 146.1,1119.3 159.3,1097.8 172.6,1074.5 185.9,1049.6 197.5,1029.7 212.5,1006.5 218.9,998.4 235.5,975.1 246.5,957.4 272.0,926.4 286.0,910.0 300.0,897.6 322.8,879.6 339.8,870.1 349.3,866.8 362.6,866.3 374.0,864.4 383.5,863.5 391.1,863.5 399.6,862.5 408.2,862.1 415.7,861.6 439.5,861.6 451.6,863.9 467.4,866.2 480.1,867.0 491.1,871.8 502.2,877.3 514.9,881.3 530.7,883.6 546.5,885.2 562.3,889.2 574.9,893.9 586.0,898.7 593.9,905.0 597.1,911.3 597.4,918.9 597.4,935.0 599.3,942.6 599.6,981.5" fill="none" stroke="#FF4A00" stroke-width="2.8" stroke-linecap="round" stroke-linejoin="round" stroke-dasharray="19.20 8.80 0.01 8.80"/>
<polyline points="132.3,1159.5 143.6,1139.3 153.6,1119.3 166.8,1097.8 180.1,1074.5 193.4,1049.6 205.0,1029.7 220.0,1006.5 226.4,998.4 243.0,975.1 254.0,957.4 296.3,902.1 317.1,877.7 331.3,865.4 343.6,853.1 353.1,844.5 364.5,836.9 378.7,824.6 387.3,819.8 402.5,810.4 413.9,807.5 422.4,802.8 430.9,801.8 439.5,799.0 451.6,797.5 464.3,794.3 475.3,793.5 476.1,793.5 476.1,814.9" fill="none" stroke="#646464" stroke-width="2.8" stroke-linecap="round" stroke-linejoin="round" stroke-dasharray="10.20 7.80 0.01 7.80 0.01 7.80"/>
<line x1="406.0" y1="949.9" x2="466.0" y2="949.9" stroke="#FF0000" stroke-width="3" stroke-linecap="round"/>
<text transform="matrix(0.95,0,0,1,471.86,958.60)" font-size="29.5" font-weight="normal">Neat</text>
<rect x="404.8" y="985.0" width="3.4" height="3.4" fill="#00AEF0"/>
<rect x="411.9" y="985.0" width="3.4" height="3.4" fill="#00AEF0"/>
<rect x="419.0" y="985.0" width="3.4" height="3.4" fill="#00AEF0"/>
<rect x="426.1" y="985.0" width="3.4" height="3.4" fill="#00AEF0"/>
<rect x="433.2" y="985.0" width="3.4" height="3.4" fill="#00AEF0"/>
<rect x="440.3" y="985.0" width="3.4" height="3.4" fill="#00AEF0"/>
<rect x="447.4" y="985.0" width="3.4" height="3.4" fill="#00AEF0"/>
<rect x="454.5" y="985.0" width="3.4" height="3.4" fill="#00AEF0"/>
<rect x="461.6" y="985.0" width="3.4" height="3.4" fill="#00AEF0"/>
<text transform="matrix(0.95,0,0,1,472.84,995.36)" font-size="29.5" font-weight="normal">S1</text>
<line x1="406.0" y1="1023.4" x2="417.6" y2="1023.4" stroke="#00A22E" stroke-width="3" stroke-linecap="round"/>
<rect x="429.9" y="1021.9" width="3" height="3" fill="#00A22E"/>
<line x1="444.0" y1="1023.4" x2="456.0" y2="1023.4" stroke="#00A22E" stroke-width="3" stroke-linecap="round"/>
<text transform="matrix(0.95,0,0,1,472.84,1032.12)" font-size="29.5" font-weight="normal">S2</text>
<line x1="406.0" y1="1060.2" x2="431.5" y2="1060.2" stroke="#00064A" stroke-width="3" stroke-linecap="round"/>
<line x1="444.0" y1="1060.2" x2="466.0" y2="1060.2" stroke="#00064A" stroke-width="3" stroke-linecap="round"/>
<text transform="matrix(0.95,0,0,1,472.84,1068.88)" font-size="29.5" font-weight="normal">S3</text>
<line x1="406.0" y1="1096.9" x2="431.5" y2="1096.9" stroke="#FF4A00" stroke-width="3" stroke-linecap="round"/>
<rect x="443.5" y="1095.4" width="3" height="3" fill="#FF4A00"/>
<line x1="458.5" y1="1096.9" x2="466.0" y2="1096.9" stroke="#FF4A00" stroke-width="3" stroke-linecap="round"/>
<text transform="matrix(0.95,0,0,1,472.84,1105.64)" font-size="29.5" font-weight="normal">S4</text>
<line x1="406.0" y1="1133.7" x2="431.5" y2="1133.7" stroke="#646464" stroke-width="3" stroke-linecap="round"/>
<rect x="443.5" y="1132.2" width="3" height="3" fill="#646464"/>
<rect x="457.1" y="1132.2" width="3" height="3" fill="#646464"/>
<text transform="matrix(0.95,0,0,1,472.84,1142.40)" font-size="29.5" font-weight="normal">S5</text>
<polyline points="755.4,1166.6 776.9,1129.0 803.7,1083.3 830.6,1036.3 841.0,1019.5 853.2,997.3 866.5,975.2 882.0,950.9 897.5,928.7 914.1,907.7 926.3,890.0 938.5,868.7 951.2,851.3 965.4,835.5 974.9,827.5 987.5,813.3 1000.2,802.2 1009.7,786.4 1019.2,780.1 1031.8,769.0 1047.6,762.7 1057.1,758.0 1069.8,754.0 1085.6,751.6 1101.4,750.8 1109.3,751.6 1115.6,758.0 1117.2,764.3 1122.0,765.9 1122.0,775.4" fill="none" stroke="#FF0000" stroke-width="3" stroke-linecap="round" stroke-linejoin="round"/>
<polyline points="755.0,1164.0 758.0,1157.2 766.1,1139.7 772.8,1126.3 780.9,1108.8 789.0,1092.7 795.7,1076.6 803.7,1060.5 810.5,1043.0 819.9,1026.9 826.0,1011.0 835.5,994.0 843.2,977.4 851.0,960.8 858.7,945.3 867.6,929.8 876.5,913.2 885.3,898.8 894.0,882.5 902.1,868.7 911.6,854.4 921.1,840.2 932.2,824.4 940.1,807.0 948.0,794.3 959.1,780.1 971.7,770.6 982.8,761.1 993.9,753.2 1003.4,740.6 1009.7,732.7 1022.3,732.7 1038.2,731.1 1046.1,728.7 1055.5,727.9 1069.8,731.9 1084.0,735.8 1093.5,740.6 1101.4,747.7 1103.0,764.3 1106.2,786.4 1106.2,830.7 1106.3,904.0" fill="none" stroke="#C00682" stroke-width="3" stroke-linecap="round" stroke-linejoin="round" stroke-dasharray="8 6.5"/>
<polyline points="755.4,1165.3 774.2,1123.6 790.3,1096.7 806.4,1063.2 822.6,1033.6 833.3,1017.3 845.5,995.1 858.7,971.9 875.4,948.6 890.9,922.1 905.5,894.2 922.7,870.2 935.4,854.4 951.2,840.2 967.0,826.0 981.2,813.3 993.9,802.2 1006.5,795.9 1022.3,788.0 1038.2,783.3 1061.9,782.5 1077.7,784.8 1093.5,789.6 1103.0,792.8 1102.2,802.2 1104.6,830.7 1104.1,849.4" fill="none" stroke="#000000" stroke-width="3" stroke-linecap="round" stroke-linejoin="round" stroke-dasharray="5 6"/>
<line x1="1061.5" y1="1040.5" x2="1121.0" y2="1040.5" stroke="#FF0000" stroke-width="3" stroke-linecap="round"/>
<text transform="matrix(0.95,0,0,1,1125.86,1049.10)" font-size="29.5" font-weight="normal">Neat</text>
<line x1="1062.1" y1="1080.2" x2="1073.2" y2="1080.2" stroke="#C00682" stroke-width="3" stroke-linecap="round"/>
<line x1="1086.8" y1="1080.2" x2="1097.4" y2="1080.2" stroke="#C00682" stroke-width="3" stroke-linecap="round"/>
<line x1="1111.2" y1="1080.2" x2="1120.4" y2="1080.2" stroke="#C00682" stroke-width="3" stroke-linecap="round"/>
<text transform="matrix(0.95,0,0,1,1125.86,1088.60)" font-size="29.5" font-weight="normal">D1</text>
<line x1="1062.1" y1="1120.2" x2="1067.1" y2="1120.2" stroke="#000000" stroke-width="3" stroke-linecap="round"/>
<line x1="1076.4" y1="1120.2" x2="1083.4" y2="1120.2" stroke="#000000" stroke-width="3" stroke-linecap="round"/>
<line x1="1090.2" y1="1120.2" x2="1097.2" y2="1120.2" stroke="#000000" stroke-width="3" stroke-linecap="round"/>
<line x1="1104.1" y1="1120.2" x2="1111.1" y2="1120.2" stroke="#000000" stroke-width="3" stroke-linecap="round"/>
<line x1="1118.4" y1="1120.2" x2="1120.4" y2="1120.2" stroke="#000000" stroke-width="3" stroke-linecap="round"/>
<text transform="matrix(0.95,0,0,1,1125.86,1128.60)" font-size="29.5" font-weight="normal">D2</text>
<polyline points="1381.0,774.2 1384.2,780.6 1388.9,797.9 1396.8,807.4 1403.1,802.7 1407.9,802.7 1415.8,808.2 1421.3,798.7 1431.6,807.4 1434.8,805.8 1441.1,805.8 1442.7,804.3 1447.4,805.1 1450.6,811.4 1455.3,816.1 1460.1,811.4 1472.7,820.1 1477.4,829.6 1480.6,834.3 1485.3,840.6 1488.5,851.7 1494.8,858.0 1498.0,858.8 1502.7,869.1 1505.9,877.0 1509.1,881.7 1513.8,888.1 1518.6,887.3 1523.3,889.6 1529.6,904.7 1539.1,888.9 1543.8,888.1 1548.6,902.3 1553.3,913.4 1556.5,913.4 1560.0,906.6 1563.8,900.9 1567.6,908.5 1574.2,919.9 1579.0,919.9 1582.8,914.2 1585.6,916.1 1590.4,936.9 1595.1,953.1 1598.9,952.1 1602.7,940.7 1606.5,952.1 1610.3,971.1 1613.1,992.0 1616.0,1009.1 1622.6,1020.4 1624.5,1031.8 1627.4,1050.8 1631.2,1066.0 1632.1,1083.1 1635.9,1085.0 1636.9,1097.3 1643.5,1086.9 1647.3,1077.4 1648.3,1069.8 1651.1,1058.4 1652.0,1031.8 1654.9,1005.3 1656.8,990.1 1658.7,969.2 1662.5,955.9 1665.3,950.2 1670.1,944.5 1673.9,936.9 1677.7,921.8 1681.5,910.4 1686.3,899.4 1691.4,894.3 1693.9,888.0 1697.7,884.2 1701.5,875.4 1705.3,869.7 1710.4,871.6 1714.2,866.5 1717.3,856.4 1719.2,852.6 1723.0,852.6 1726.8,854.5 1730.0,854.5 1731.9,848.2 1735.7,843.7 1739.5,839.3 1744.5,837.4 1748.3,840.6 1753.4,834.9 1755.9,828.6 1758.4,825.4 1762.2,827.3 1767.3,830.4 1771.1,824.1 1776.1,819.7 1782.5,817.8 1786.3,820.3 1790.1,821.6 1793.9,821.0 1796.4,816.5 1801.4,813.4 1806.5,815.3 1811.6,810.8 1816.6,808.9 1819.1,809.6 1822.9,803.3 1826.7,800.7 1834.3,802.6 1840.7,795.7 1844.5,797.6 1849.5,797.6 1854.6,795.7 1860.9,795.7 1864.7,790.6 1869.7,793.1 1874.8,790.6 1878.6,790.0" fill="none" stroke="#000000" stroke-width="3" stroke-linecap="round" stroke-linejoin="round"/>
<polyline points="1381.0,768.7 1385.7,771.1 1390.5,782.1 1395.2,788.5 1401.6,788.5 1406.3,786.1 1412.6,790.0 1417.4,794.8 1422.1,786.9 1425.3,788.5 1431.6,795.6 1437.9,791.6 1444.2,792.4 1449.0,794.0 1455.3,805.1 1461.6,798.7 1468.0,807.4 1474.3,810.6 1479.0,823.2 1485.3,828.0 1490.1,840.6 1498.0,847.0 1502.7,858.0 1504.3,870.7 1507.5,880.2 1512.2,889.6 1517.0,894.4 1523.3,894.4 1531.2,903.9 1539.1,892.8 1542.3,896.0 1547.0,916.5 1551.7,946.6 1556.5,946.6 1563.8,923.7 1567.6,933.1 1571.4,936.9 1576.1,941.7 1582.8,931.2 1585.6,944.5 1590.4,967.3 1594.2,978.7 1598.0,973.0 1601.8,955.9 1605.5,948.3 1611.2,965.4 1615.0,986.3 1618.8,997.7 1624.5,1003.4 1627.4,1024.2 1631.2,1045.1 1633.1,1060.3 1635.9,1071.7 1639.7,1058.4 1645.4,1064.1 1647.3,1050.8 1653.0,1035.6 1656.8,1024.2 1658.7,1012.9 1660.6,993.9 1662.5,982.5 1668.2,973.0 1673.9,969.2 1675.8,961.6 1679.6,948.3 1683.4,938.8 1687.2,933.1 1692.9,921.8 1696.6,912.3 1700.2,900.0 1704.0,894.3 1710.4,889.3 1714.2,883.0 1716.7,875.4 1721.7,873.5 1726.8,876.0 1730.6,872.2 1735.7,870.3 1740.7,865.2 1744.5,864.6 1749.6,867.1 1753.4,865.2 1755.9,858.9 1758.4,853.9 1762.2,851.3 1768.6,855.7 1773.6,853.9 1779.9,850.1 1782.5,846.9 1786.3,848.8 1791.3,855.1 1796.4,852.0 1801.4,846.9 1806.5,845.6 1812.8,845.6 1816.6,843.7 1820.4,838.0 1825.5,833.6 1831.8,834.9 1838.1,828.6 1844.5,824.8 1849.5,824.1 1855.8,821.6 1859.6,819.7 1864.7,815.3 1869.7,818.4 1874.8,815.9 1878.6,814.6" fill="none" stroke="#FF0000" stroke-width="3" stroke-linecap="butt" stroke-linejoin="round" stroke-dasharray="9 3.6"/>
<line x1="1682.0" y1="1105.3" x2="1774.0" y2="1105.3" stroke="#000" stroke-width="5" stroke-linecap="butt"/>
<line x1="1681.0" y1="1138.4" x2="1696.8" y2="1138.4" stroke="#FF0000" stroke-width="5" stroke-linecap="butt"/>
<line x1="1702.0" y1="1138.4" x2="1717.8" y2="1138.4" stroke="#FF0000" stroke-width="5" stroke-linecap="butt"/>
<line x1="1723.0" y1="1138.4" x2="1738.8" y2="1138.4" stroke="#FF0000" stroke-width="5" stroke-linecap="butt"/>
<line x1="1744.0" y1="1138.4" x2="1759.8" y2="1138.4" stroke="#FF0000" stroke-width="5" stroke-linecap="butt"/>
<line x1="1765.0" y1="1138.4" x2="1774.7" y2="1138.4" stroke="#FF0000" stroke-width="5" stroke-linecap="butt"/>
<text transform="matrix(0.95,0,0,1,1812.08,1111.60)" font-size="29.5" font-weight="normal">0°</text>
<text transform="matrix(0.95,0,0,1,1811.94,1144.20)" font-size="29.5" font-weight="normal">90°</text>
</svg>
</body></html>
